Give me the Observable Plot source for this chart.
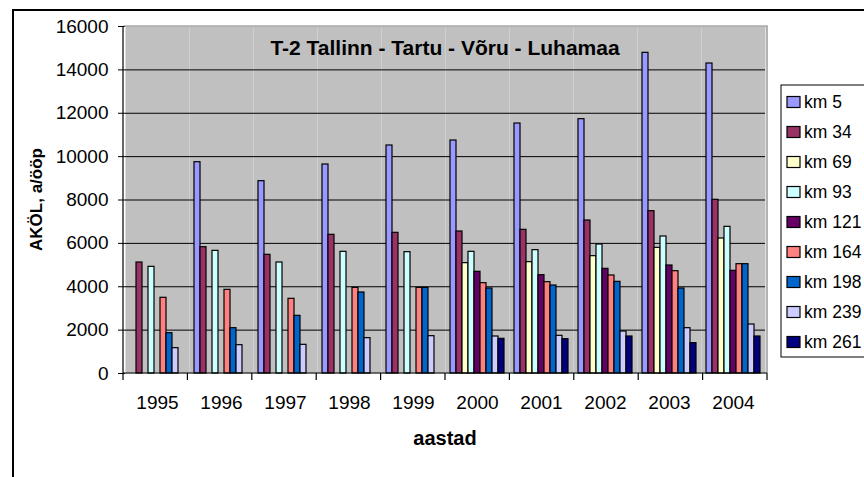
<!DOCTYPE html>
<html>
<head>
<meta charset="utf-8">
<script src="https://cdn.jsdelivr.net/npm/d3@7"></script>
<script src="https://cdn.jsdelivr.net/npm/@observablehq/plot@0.6"></script>
<style>
  html, body { margin: 0; padding: 0; background: #ffffff; }
  #chart { width: 864px; height: 477px; overflow: hidden; }
</style>
</head>
<body>
<div id="chart"></div>
<script>
// ---- data ----
const years = ["1995", "1996", "1997", "1998", "1999", "2000", "2001", "2002", "2003", "2004"];
const seriesNames = ["km 5", "km 34", "km 69", "km 93", "km 121", "km 164", "km 198", "km 239", "km 261"];
const seriesColors = ["#9999FF", "#993366", "#FFFFCC", "#CCFFFF", "#660066", "#FF8080", "#0066CC", "#CCCCFF", "#000080"];

const km5   = [null, 9744, 8868, 9637, 10513, 10743, 11527, 11727, 14786, 14294];
const km34  = [5118, 5825, 5472, 6394, 6486, 6547, 6624, 7054, 7485, 8008];
const km69  = [null, null, null, null, null, 5088, 5134, 5410, 5794, 6225];
const km93  = [4918, 5656, 5118, 5610, 5595, 5610, 5687, 5948, 6317, 6763];
const km121 = [null, null, null, null, null, 4688, 4534, 4826, 4980, 4734];
const km164 = [3490, 3858, 3443, 3950, 3950, 4165, 4211, 4519, 4718, 5041];
const km198 = [1860, 2090, 2659, 3735, 3950, 3919, 4057, 4226, 3919, 5041];
const km239 = [1168, 1306, 1322, 1629, 1721, 1706, 1737, 1937, 2090, 2259];
const km261 = [null, null, null, null, null, 1598, 1583, 1706, 1399, 1706];

const yTicks = [0, 2000, 4000, 6000, 8000, 10000, 12000, 14000, 16000];

const titleText = "T-2 Tallinn - Tartu - Võru - Luhamaa";
const yTitle = "AKÖL, a/ööp";
const xTitle = "aastad";

// ---- build table ----
const seriesValues = [km5, km34, km69, km93, km121, km164, km198, km239, km261];
const data = [];
years.forEach((yr, i) => {
  seriesNames.forEach((s, j) => {
    const v = seriesValues[j][i];
    if (v != null) data.push({year: yr, series: s, value: v});
  });
});

const FONT = "'Liberation Sans', Arial, Helvetica, sans-serif";

const plot = Plot.plot({
  width: 864,
  height: 477,
  marginLeft: 123,
  marginRight: 97,
  marginTop: 26,
  marginBottom: 104,
  style: {fontFamily: FONT, fontSize: "19px", background: "#ffffff", color: "#000000"},
  facet: {data: data, x: "year"},
  fx: {domain: years, padding: 0, label: null, tickSize: 0, tickPadding: 22, axis: "bottom"},
  x: {domain: seriesNames, paddingInner: 0, paddingOuter: 0.53, axis: null},
  y: {domain: [0, 16000], ticks: yTicks, tickFormat: d => String(d), tickSize: 7, tickPadding: 10, label: null},
  color: {domain: seriesNames, range: seriesColors},
  marks: [
    Plot.frame({fill: "#C0C0C0", stroke: "none"}),
    Plot.ruleY(yTicks.filter(t => t > 0 && t < 16000), {stroke: "#000000", strokeWidth: 1}),
    Plot.barY(data, {x: "series", y: "value", fill: "series", stroke: "#000000", strokeWidth: 1.2})
  ]
});

document.getElementById("chart").appendChild(plot);

// ---- decorations drawn on top with d3 ----
const svg = d3.select(plot);
const fx = plot.scale("fx");
const ys = plot.scale("y");
const x0 = fx.range[0], x1 = fx.range[1];
const yTop = ys.apply ? ys.apply(16000) : 26;
const yBot = ys.apply ? ys.apply(0) : 373;
const step = (x1 - x0) / years.length;

const deco = svg.append("g");

// outer chart border
deco.append("path")
  .attr("d", `M13,${477} V10 H864`)
  .attr("fill", "none").attr("stroke", "#000000").attr("stroke-width", 2);

// plot-area border (gray) on top/right
deco.append("path")
  .attr("d", `M${x0},${yTop} H${x1} V${yBot}`)
  .attr("fill", "none").attr("stroke", "#808080").attr("stroke-width", 1.2);

// axis lines
deco.append("line").attr("x1", x0).attr("x2", x0).attr("y1", yTop).attr("y2", yBot)
  .attr("stroke", "#000000").attr("stroke-width", 1.2);
deco.append("line").attr("x1", x0).attr("x2", x1).attr("y1", yBot).attr("y2", yBot)
  .attr("stroke", "#000000").attr("stroke-width", 1.2);

// category boundary tick marks
for (let k = 0; k <= years.length; k++) {
  const xx = x0 + k * step;
  deco.append("line").attr("x1", xx).attr("x2", xx).attr("y1", yBot).attr("y2", yBot + 7)
    .attr("stroke", "#000000").attr("stroke-width", 1.2);
}

// title
deco.append("text")
  .attr("x", (x0 + x1) / 2).attr("y", 55)
  .attr("text-anchor", "middle")
  .style("font-family", FONT).style("font-size", "21px").style("font-weight", "bold")
  .text(titleText);

// y axis title
deco.append("text")
  .attr("transform", `translate(36,${(yTop + yBot) / 2}) rotate(-90)`)
  .attr("text-anchor", "middle").attr("dominant-baseline", "central")
  .style("font-family", FONT).style("font-size", "17px").style("font-weight", "bold")
  .text(yTitle);

// x axis title
deco.append("text")
  .attr("x", (x0 + x1) / 2).attr("y", 445)
  .attr("text-anchor", "middle")
  .style("font-family", FONT).style("font-size", "20px").style("font-weight", "bold")
  .text(xTitle);

// legend
const lg = deco.append("g").attr("text-anchor", "start");
lg.append("rect").attr("x", 781).attr("y", 85).attr("width", 120).attr("height", 272)
  .attr("fill", "#ffffff").attr("stroke", "#000000").attr("stroke-width", 1);
seriesNames.forEach((s, i) => {
  const cy = 102 + 30 * i;
  lg.append("rect").attr("x", 787).attr("y", cy - 5.5).attr("width", 13).attr("height", 11)
    .attr("fill", seriesColors[i]).attr("stroke", "#000000").attr("stroke-width", 1.2);
  lg.append("text").attr("x", 804).attr("y", cy)
    .attr("text-anchor", "start")
    .attr("dominant-baseline", "central")
    .style("font-family", FONT).style("font-size", "17.5px")
    .text(s);
});
</script>
</body>
</html>
